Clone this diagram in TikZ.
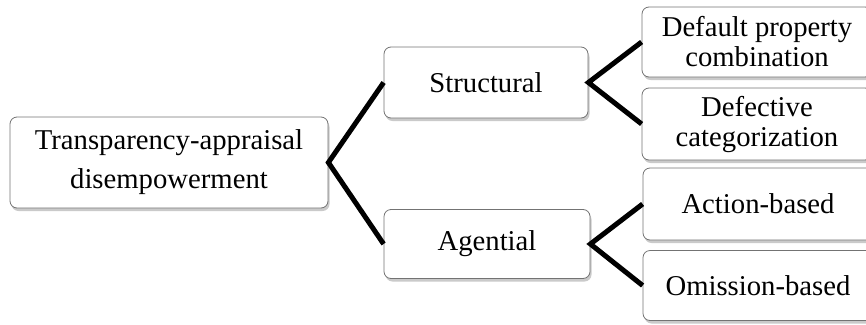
\documentclass[tikz,border=0pt]{standalone}
\usepackage{fontspec}
\setmainfont{Liberation Serif}
\usetikzlibrary{shadows}
\tikzset{
    tree-box/.style = {draw=black!55, fill=white, line width=0.8pt, rectangle, rounded corners=7pt,
        align=center, inner sep=0pt, font=\fontsize{28.7}{30}\selectfont,
        drop shadow={shadow xshift=1.5pt, shadow yshift=-3pt, opacity=0.35, fill=black!60}},
    tree-link/.style = {draw=black, line width=5pt},
}

\begin{document}
\begin{tikzpicture}[x=1pt, y=-1pt]
\clip (0,0) rectangle (866,324);
\node [tree-box, minimum width=318pt, minimum height=91pt, font=\fontsize{28.7}{39}\selectfont] (root) at (169,162.5) {Transparency-appraisal\\disempowerment};
\node [tree-box, minimum width=204pt, minimum height=71pt] (struct) at (486,82.5) {Structural};
\node [tree-box, minimum width=206pt, minimum height=69pt] (agent) at (487,244) {Agential};
\node [tree-box, minimum width=230pt, minimum height=70pt] (default) at (757,42) {Default property\\combination};
\node [tree-box, minimum width=230pt, minimum height=72pt] (defect) at (757,124) {Defective\\categorization};
\node [tree-box, minimum width=230pt, minimum height=72pt] (action) at (758,204) {Action-based};
\node [tree-box, minimum width=230pt, minimum height=70pt] (omit) at (758,285.5) {Omission-based};
% connectors
\draw [tree-link] (struct.west) -- (root.east) -- (agent.west);
\draw [tree-link] (default.west) -- (struct.east) -- (defect.west);
\draw [tree-link] (action.west) -- (agent.east) -- (omit.west);
\end{tikzpicture}
\end{document}
